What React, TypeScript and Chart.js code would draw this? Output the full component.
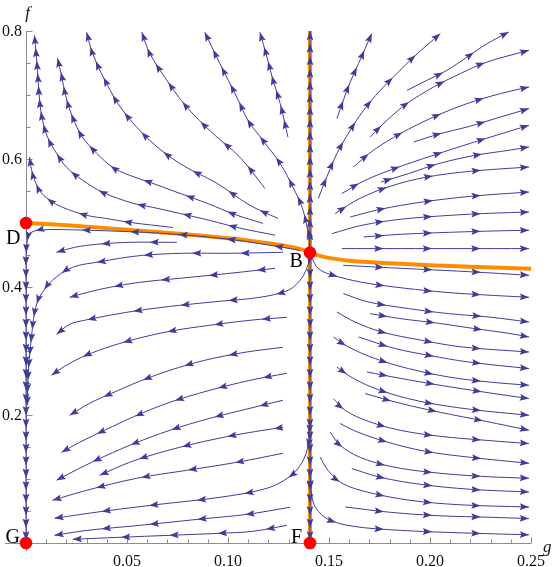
import React, { useEffect, useRef } from 'react';
import { Chart, registerables } from 'chart.js';

Chart.register(...registerables);

type P = [number, number];

// ---- axes ----
const xTickValues = [0.05, 0.1, 0.15, 0.2, 0.25];
const xTickLabels = ['0.05', '0.10', '0.15', '0.20', '0.25'];
const yTickValues = [0.2, 0.4, 0.6, 0.8];
const yTickLabels = ['0.2', '0.4', '0.6', '0.8'];
const xMinorStep = 0.01;
const yMinorStep = 0.05;

// ---- equilibria ----
const equilibriumNames = ['D', 'B', 'G', 'F'];
const equilibriumG = [0, 0.1406, 0, 0.1406];
const equilibriumF = [0.5, 0.4537, 0, 0];

// ---- orange curves ----
const orangeCurveG = [0, 0.02, 0.05, 0.08, 0.1, 0.115, 0.125, 0.132, 0.137, 0.1406, 0.145, 0.15, 0.16, 0.18, 0.2, 0.22, 0.25];
const orangeCurveF = [0.5, 0.4965, 0.4896, 0.482, 0.476, 0.4705, 0.466, 0.462, 0.458, 0.4537, 0.449, 0.4455, 0.441, 0.437, 0.434, 0.4315, 0.4287];
const orangeLineG = [0.1406, 0.1406];
const orangeLineF = [0, 0.8];

// ---- streamlines (flow order) ----
const streamTL1: P[] = [[0.0727, 0.493], [0.0513, 0.501], [0.0399, 0.507], [0.03, 0.512], [0.0181, 0.5245], [0.0117, 0.5355], [0.0067, 0.551], [0.0032, 0.5777], [0.0017, 0.6027]];
const streamTL2: P[] = [[0.1233, 0.481], [0.1059, 0.492], [0.091, 0.504], [0.0761, 0.515], [0.0627, 0.5245], [0.0528, 0.531], [0.0379, 0.548], [0.028, 0.567], [0.0201, 0.587], [0.0151, 0.609], [0.0107, 0.634], [0.0082, 0.6605], [0.0067, 0.692], [0.0057, 0.7386], [0.0042, 0.7933]];
const streamTL3: P[] = [[0.1173, 0.4995], [0.1044, 0.5121], [0.0895, 0.531], [0.0747, 0.548], [0.0613, 0.5636], [0.0513, 0.5745], [0.0429, 0.587], [0.035, 0.609], [0.028, 0.634], [0.0231, 0.665], [0.0196, 0.6995], [0.0176, 0.7306], [0.0156, 0.7573]];
const streamTL4: P[] = [[0.1248, 0.507], [0.1109, 0.5277], [0.0945, 0.562], [0.0761, 0.593], [0.0613, 0.629], [0.0479, 0.676], [0.0399, 0.718], [0.033, 0.765], [0.03, 0.798]];
const streamTL5: P[] = [[0.1183, 0.554], [0.1059, 0.6027], [0.0925, 0.64], [0.0796, 0.681], [0.0697, 0.723], [0.0613, 0.765], [0.0573, 0.798]];
const streamTL6: P[] = [[0.1404, 0.459], [0.1401, 0.4808], [0.1392, 0.4933], [0.1367, 0.5245], [0.1322, 0.5558], [0.1258, 0.593], [0.1173, 0.629], [0.1099, 0.6605], [0.1044, 0.6964], [0.096, 0.749], [0.0885, 0.798]];
const streamTL7: P[] = [[0.1297, 0.634], [0.1258, 0.687], [0.1223, 0.723], [0.1193, 0.759], [0.1158, 0.798]];

const streamUp: P[] = [[0.1406, 0.462], [0.1406, 0.6], [0.1406, 0.8]];
const streamDown: P[] = [[0.1406, 0.446], [0.1406, 0.25], [0.1406, 0.004]];

const streamBDG: P[] = [[0.1357, 0.4573], [0.1208, 0.4652], [0.1009, 0.4745], [0.0712, 0.4831], [0.0464, 0.487], [0.0216, 0.4894], [0.0092, 0.4894], [0.0027, 0.4855], [0.0007, 0.473], [0, 0.4417], [0, 0.3792], [0, 0.2229], [0, 0.0667], [0, 0.004]];
const streamBLa: P[] = [[0.1272, 0.4542], [0.1009, 0.4527], [0.0776, 0.4527], [0.0578, 0.4495], [0.0464, 0.4448], [0.0365, 0.4394], [0.0231, 0.4308], [0.0131, 0.4105], [0.0067, 0.3839], [0.0042, 0.3589], [0.0027, 0.3214], [0.0012, 0.2698], [0.0006, 0.215]];
const streamBLb: P[] = [[0.0747, 0.4698], [0.0513, 0.4698], [0.035, 0.4667], [0.0241, 0.462], [0.0151, 0.4542]];
const streamBL1: P[] = [[0.1233, 0.4292], [0.1009, 0.4214], [0.0761, 0.4136], [0.0563, 0.4073], [0.0414, 0.3995], [0.0305, 0.3917], [0.0216, 0.3839]];
const streamBL2: P[] = [[0.1406, 0.448], [0.1392, 0.4308], [0.1357, 0.4105], [0.1297, 0.3948], [0.1158, 0.3839], [0.096, 0.3777], [0.0761, 0.3714], [0.0563, 0.3636], [0.0414, 0.3558], [0.029, 0.348], [0.0216, 0.3417], [0.0151, 0.3261]];
const streamBL3: P[] = [[0.1292, 0.3527], [0.1109, 0.348], [0.091, 0.3402], [0.0712, 0.3308], [0.0538, 0.3183], [0.0389, 0.3042], [0.0275, 0.2902], [0.0191, 0.2761], [0.0126, 0.262]];
const streamBL4: P[] = [[0.1272, 0.3058], [0.1084, 0.298], [0.0885, 0.2855], [0.0712, 0.2698], [0.0563, 0.2527], [0.0424, 0.2339], [0.0315, 0.2183], [0.0216, 0.1995]];
const streamBL5: P[] = [[0.1292, 0.2652], [0.1109, 0.2542], [0.091, 0.2386], [0.0712, 0.2198], [0.0538, 0.198], [0.0389, 0.1761], [0.0265, 0.1573], [0.0176, 0.1417]];
const streamBL6: P[] = [[0.1272, 0.223], [0.1109, 0.2105], [0.091, 0.1948], [0.0712, 0.1761], [0.0538, 0.1558], [0.0389, 0.1355], [0.0255, 0.1152], [0.0151, 0.098]];
const streamBL7: P[] = [[0.1272, 0.1808], [0.1084, 0.1714], [0.0885, 0.1589], [0.0687, 0.1433], [0.0513, 0.1261], [0.0365, 0.1058]];
const streamBL8: P[] = [[0.1272, 0.1402], [0.1044, 0.1261], [0.0796, 0.1136], [0.0548, 0.1011], [0.03, 0.0823], [0.0131, 0.0667]];
const streamBL9: P[] = [[0.1406, 0.1917], [0.1397, 0.1527], [0.1367, 0.1261], [0.1307, 0.1042], [0.1193, 0.0855], [0.096, 0.0714], [0.0662, 0.0605], [0.038, 0.0495], [0.0141, 0.0386]];
const streamBL10: P[] = [[0.1307, 0.0558], [0.1094, 0.0448], [0.0851, 0.037], [0.0568, 0.0277], [0.0305, 0.0198], [0.0141, 0.012]];
const streamBL11: P[] = [[0.1292, 0.0277], [0.1124, 0.0183], [0.096, 0.0152], [0.0712, 0.012], [0.0464, 0.0089], [0.0231, 0.0058]];

const streamR1: P[] = [[0.1539, 0.6631], [0.1571, 0.6917], [0.1605, 0.7203], [0.1646, 0.7491], [0.1712, 0.7959]];
const streamR2: P[] = [[0.1447, 0.5381], [0.1489, 0.5719], [0.1539, 0.6084], [0.1605, 0.6448], [0.1671, 0.6761], [0.1754, 0.7073], [0.1836, 0.7334], [0.1919, 0.7594], [0.2051, 0.7959]];
const streamR3: P[] = [[0.1886, 0.7073], [0.1985, 0.723], [0.2084, 0.7386], [0.2184, 0.7594], [0.2283, 0.7803], [0.239, 0.7984]];
const streamR4: P[] = [[0.1704, 0.6344], [0.1787, 0.6605], [0.1886, 0.6866], [0.2018, 0.7125], [0.215, 0.7334], [0.2283, 0.7516], [0.249, 0.7698]];
const streamR5: P[] = [[0.1621, 0.5875], [0.172, 0.6136], [0.1853, 0.6397], [0.2018, 0.6656], [0.2184, 0.6866], [0.2349, 0.7022], [0.249, 0.7125]];
const streamR6: P[] = [[0.1919, 0.6266], [0.2051, 0.6397], [0.2184, 0.65], [0.2349, 0.6656], [0.249, 0.6788]];
const streamR7: P[] = [[0.1563, 0.5459], [0.1679, 0.5667], [0.1828, 0.5855], [0.2001, 0.6042], [0.22, 0.6245], [0.249, 0.6527]];
const streamR8: P[] = [[0.1758, 0.5641], [0.1894, 0.5772], [0.2043, 0.5928], [0.2225, 0.6058], [0.239, 0.6136], [0.249, 0.6188]];
const streamR9: P[] = [[0.153, 0.5147], [0.1654, 0.5386], [0.1803, 0.5573], [0.1977, 0.5714], [0.22, 0.5808], [0.249, 0.5875]];
const streamR10: P[] = [[0.1605, 0.5094], [0.1754, 0.5214], [0.1952, 0.5323], [0.22, 0.5417], [0.249, 0.5484]];
const streamR11: P[] = [[0.1514, 0.4834], [0.1663, 0.4964], [0.1853, 0.5058], [0.2101, 0.512], [0.2299, 0.5152], [0.249, 0.5172]];
const streamR12: P[] = [[0.1671, 0.4781], [0.1853, 0.4823], [0.2101, 0.4855], [0.2349, 0.4878], [0.249, 0.4886]];
const streamR13: P[] = [[0.1563, 0.46], [0.1853, 0.46], [0.215, 0.46], [0.249, 0.46]];

const streamRB0: P[] = [[0.1571, 0.4339], [0.1754, 0.4308], [0.1952, 0.4277], [0.22, 0.4238], [0.249, 0.4183]];
const streamRB1: P[] = [[0.1416, 0.4448], [0.1446, 0.4292], [0.1505, 0.4198], [0.1664, 0.4073], [0.1878, 0.398], [0.2076, 0.3917], [0.226, 0.3878], [0.249, 0.3839]];
const streamRB2: P[] = [[0.1571, 0.3897], [0.1695, 0.3766], [0.1894, 0.3663], [0.2092, 0.3584], [0.2291, 0.3531], [0.249, 0.3453]];
const streamRB3: P[] = [[0.1704, 0.3584], [0.1843, 0.3511], [0.2041, 0.3433], [0.221, 0.3355], [0.2388, 0.3277], [0.249, 0.3219]];
const streamRB4: P[] = [[0.1539, 0.3609], [0.1629, 0.3453], [0.1762, 0.3297], [0.196, 0.3167], [0.2159, 0.3063], [0.249, 0.2984]];
const streamRB5: P[] = [[0.1646, 0.3219], [0.1828, 0.3038], [0.1993, 0.2933], [0.2191, 0.2828], [0.249, 0.2725]];
const streamRB6: P[] = [[0.1522, 0.3219], [0.1596, 0.3063], [0.1729, 0.2881], [0.1894, 0.2725], [0.2092, 0.2594], [0.2291, 0.2516], [0.249, 0.2464]];
const streamRB7: P[] = [[0.1688, 0.2672], [0.1853, 0.2573], [0.2051, 0.2464], [0.2274, 0.2355], [0.249, 0.2256]];
const streamRB8: P[] = [[0.1539, 0.275], [0.162, 0.2573], [0.1753, 0.2386], [0.1951, 0.2214], [0.22, 0.2089], [0.249, 0.1995]];
const streamRB9: P[] = [[0.1679, 0.2334], [0.1853, 0.2183], [0.2051, 0.2042], [0.2274, 0.1902], [0.249, 0.1761]];
const streamRB10: P[] = [[0.1522, 0.2256], [0.158, 0.2073], [0.1694, 0.1902], [0.1853, 0.1761], [0.2051, 0.1667], [0.2274, 0.1605], [0.249, 0.1553]];
const streamRB11: P[] = [[0.1555, 0.1866], [0.1644, 0.173], [0.1793, 0.1573], [0.1977, 0.1433], [0.22, 0.1339], [0.249, 0.1245]];
const streamRB12: P[] = [[0.1505, 0.1734], [0.1555, 0.1527], [0.1654, 0.1339], [0.1803, 0.1198], [0.2001, 0.1105], [0.225, 0.1042], [0.249, 0.1011]];
const streamRB13: P[] = [[0.1613, 0.1163], [0.1754, 0.1027], [0.1952, 0.0917], [0.22, 0.0839], [0.249, 0.0797]];
const streamRB14: P[] = [[0.1456, 0.1344], [0.1495, 0.1136], [0.1565, 0.0933], [0.1694, 0.0792], [0.1902, 0.0667], [0.215, 0.0597], [0.249, 0.0562]];
const streamRB15: P[] = [[0.158, 0.0563], [0.1803, 0.048], [0.2051, 0.0425], [0.2299, 0.0402], [0.249, 0.0381]];
const streamRB16: P[] = [[0.1406, 0.1136], [0.1414, 0.0747], [0.1436, 0.0544], [0.1495, 0.0372], [0.1615, 0.0263], [0.1853, 0.0198], [0.215, 0.0159], [0.249, 0.0128]];

const streams: P[][] = [
  streamTL1, streamTL2, streamTL3, streamTL4, streamTL5, streamTL6, streamTL7,
  streamUp, streamDown, streamBDG, streamBLa, streamBLb,
  streamBL1, streamBL2, streamBL3, streamBL4, streamBL5, streamBL6, streamBL7, streamBL8, streamBL9, streamBL10, streamBL11,
  streamR1, streamR2, streamR3, streamR4, streamR5, streamR6, streamR7, streamR8, streamR9, streamR10, streamR11, streamR12, streamR13,
  streamRB0, streamRB1, streamRB2, streamRB3, streamRB4, streamRB5, streamRB6, streamRB7, streamRB8, streamRB9, streamRB10,
  streamRB11, streamRB12, streamRB13, streamRB14, streamRB15, streamRB16,
];

// ---- styles ----
const STREAM_COLOR = 'rgb(62,61,153)';
const ORANGE = 'rgb(255,140,0)';
const RED = 'rgb(255,0,0)';
const AXIS_COLOR = '#8c8c8c';
const SERIF = '"Liberation Serif", "Times New Roman", serif';
const labelOffsets: Record<string, [number, number]> = {
  D: [-20, 20.5],
  B: [-20.5, 14.5],
  G: [-20.5, -0.5],
  F: [-19, -0.5],
};

function densePath(pts: any[]) {
  const out: { x: number; y: number }[] = [];
  for (let i = 0; i < pts.length; i++) {
    const p = pts[i];
    if (i === 0) {
      out.push({ x: p.x, y: p.y });
      continue;
    }
    const q = pts[i - 1];
    const c1x = q.cp2x ?? q.x;
    const c1y = q.cp2y ?? q.y;
    const c2x = p.cp1x ?? p.x;
    const c2y = p.cp1y ?? p.y;
    const n = 14;
    for (let k = 1; k <= n; k++) {
      const t = k / n;
      const u = 1 - t;
      out.push({
        x: u * u * u * q.x + 3 * u * u * t * c1x + 3 * u * t * t * c2x + t * t * t * p.x,
        y: u * u * u * q.y + 3 * u * u * t * c1y + 3 * u * t * t * c2y + t * t * t * p.y,
      });
    }
  }
  return out;
}

function drawArrow(ctx: CanvasRenderingContext2D, x: number, y: number, ux: number, uy: number) {
  const L = 9.2;
  const W = 3.4;
  const N = 7.6;
  ctx.beginPath();
  ctx.moveTo(x, y);
  ctx.lineTo(x - ux * L - uy * W, y - uy * L + ux * W);
  ctx.lineTo(x - ux * N, y - uy * N);
  ctx.lineTo(x - ux * L + uy * W, y - uy * L - ux * W);
  ctx.closePath();
  ctx.fill();
}

const arrowPlugin = {
  id: 'streamArrows',
  afterDatasetDraw(chart: any, args: any) {
    const ds = chart.data.datasets[args.index];
    if (!ds || !ds.isStream) return;
    const path = densePath(args.meta.data);
    if (path.length < 2) return;
    const cum = [0];
    for (let i = 1; i < path.length; i++) {
      cum.push(cum[i - 1] + Math.hypot(path[i].x - path[i - 1].x, path[i].y - path[i - 1].y));
    }
    const total = cum[cum.length - 1];
    const ctx: CanvasRenderingContext2D = chart.ctx;
    ctx.save();
    ctx.fillStyle = STREAM_COLOR;
    let pos = total;
    let j = path.length - 2;
    while (pos > 8) {
      while (j > 0 && cum[j] > pos) j--;
      const segLen = cum[j + 1] - cum[j] || 1;
      const t = (pos - cum[j]) / segLen;
      const x = path[j].x + (path[j + 1].x - path[j].x) * t;
      const y = path[j].y + (path[j + 1].y - path[j].y) * t;
      let ux = path[j + 1].x - path[j].x;
      let uy = path[j + 1].y - path[j].y;
      const d = Math.hypot(ux, uy) || 1;
      ux /= d;
      uy /= d;
      drawArrow(ctx, x, y, ux, uy);
      const spacing = 12.5 + 36 * ux * ux;
      pos -= spacing;
    }
    ctx.restore();
  },
};

const axesPlugin = {
  id: 'mmaAxes',
  beforeDatasetsDraw(chart: any) {
    const ctx: CanvasRenderingContext2D = chart.ctx;
    const xs = chart.scales.x;
    const ys = chart.scales.y;
    const x0 = Math.round(xs.getPixelForValue(0)) + 0.5;
    const y0 = Math.round(ys.getPixelForValue(0)) + 0.5;
    ctx.save();
    ctx.strokeStyle = AXIS_COLOR;
    ctx.lineWidth = 1;
    ctx.beginPath();
    ctx.moveTo(xs.getPixelForValue(-0.0105), y0);
    ctx.lineTo(xs.getPixelForValue(0.25), y0);
    ctx.moveTo(x0, ys.getPixelForValue(-0.0125));
    ctx.lineTo(x0, ys.getPixelForValue(0.8));
    const nx = Math.round(0.25 / xMinorStep);
    for (let k = 1; k <= nx; k++) {
      const px = Math.round(xs.getPixelForValue(k * xMinorStep)) + 0.5;
      const len = k % 5 === 0 ? 6 : 4;
      ctx.moveTo(px, y0);
      ctx.lineTo(px, y0 - len);
    }
    const ny = Math.round(0.8 / yMinorStep);
    for (let k = 1; k <= ny; k++) {
      const py = Math.round(ys.getPixelForValue(k * yMinorStep)) + 0.5;
      const len = k % 4 === 0 ? 6 : 4;
      ctx.moveTo(x0, py);
      ctx.lineTo(x0 + len, py);
    }
    ctx.stroke();

    ctx.fillStyle = '#111';
    ctx.font = `16px ${SERIF}`;
    ctx.textBaseline = 'alphabetic';
    ctx.textAlign = 'center';
    xTickValues.forEach((v, i) => {
      ctx.fillText(xTickLabels[i], xs.getPixelForValue(v), 566);
    });
    ctx.textAlign = 'right';
    yTickValues.forEach((v, i) => {
      ctx.fillText(yTickLabels[i], x0 - 4.5, ys.getPixelForValue(v) + 5.4);
    });
    ctx.font = `italic 17px ${SERIF}`;
    ctx.textAlign = 'center';
    ctx.fillText('f', x0 + 1, 18);
    ctx.textAlign = 'left';
    ctx.fillText('g', xs.getPixelForValue(0.25) + 12, y0 + 8);
    ctx.restore();
  },
  afterDraw(chart: any) {
    const ctx: CanvasRenderingContext2D = chart.ctx;
    const xs = chart.scales.x;
    const ys = chart.scales.y;
    ctx.save();
    ctx.fillStyle = '#000';
    ctx.font = `20px ${SERIF}`;
    ctx.textAlign = 'left';
    ctx.textBaseline = 'alphabetic';
    equilibriumNames.forEach((name, i) => {
      const off = labelOffsets[name] || [0, 0];
      ctx.fillText(name, xs.getPixelForValue(equilibriumG[i]) + off[0], ys.getPixelForValue(equilibriumF[i]) + off[1]);
    });
    ctx.restore();
  },
};

export default function App() {
  const ref = useRef<HTMLCanvasElement>(null);
  useEffect(() => {
    const canvas = ref.current;
    if (!canvas) return;
    const datasets: any[] = [];
    datasets.push({
      data: equilibriumG.map((g, i) => ({ x: g, y: equilibriumF[i] })),
      showLine: false,
      pointRadius: 6.3,
      pointBackgroundColor: RED,
      pointBorderWidth: 0,
      order: 0,
      clip: false,
    });
    streams.forEach((s) => {
      datasets.push({
        data: s.map(([g, f]) => ({ x: g, y: f })),
        showLine: true,
        borderColor: STREAM_COLOR,
        borderWidth: 1,
        pointRadius: 0,
        tension: 0.35,
        fill: false,
        order: 1,
        clip: false,
        isStream: true,
      });
    });
    datasets.push({
      data: orangeCurveG.map((g, i) => ({ x: g, y: orangeCurveF[i] })),
      showLine: true,
      borderColor: ORANGE,
      borderWidth: 4,
      pointRadius: 0,
      tension: 0.3,
      fill: false,
      order: 2,
      clip: false,
    });
    datasets.push({
      data: orangeLineG.map((g, i) => ({ x: g, y: orangeLineF[i] })),
      showLine: true,
      borderColor: ORANGE,
      borderWidth: 4,
      borderCapStyle: 'butt',
      pointRadius: 0,
      fill: false,
      order: 2,
      clip: false,
    });

    const chart = new Chart(canvas, {
      type: 'scatter',
      data: { datasets },
      options: {
        responsive: false,
        animation: false,
        devicePixelRatio: 1,
        events: [],
        layout: { padding: { left: 26, right: 23, top: 31, bottom: 24 } },
        scales: {
          x: { type: 'linear', min: 0, max: 0.25, display: false },
          y: { type: 'linear', min: 0, max: 0.8, display: false },
        },
        plugins: { legend: { display: false }, tooltip: { enabled: false } },
      } as any,
      plugins: [axesPlugin, arrowPlugin],
    });
    return () => chart.destroy();
  }, []);

  return (
    <div style={{ position: 'absolute', left: 0, top: 0, width: 554, height: 567, background: '#fff' }}>
      <canvas ref={ref} width={554} height={567} style={{ display: 'block' }} />
    </div>
  );
}
